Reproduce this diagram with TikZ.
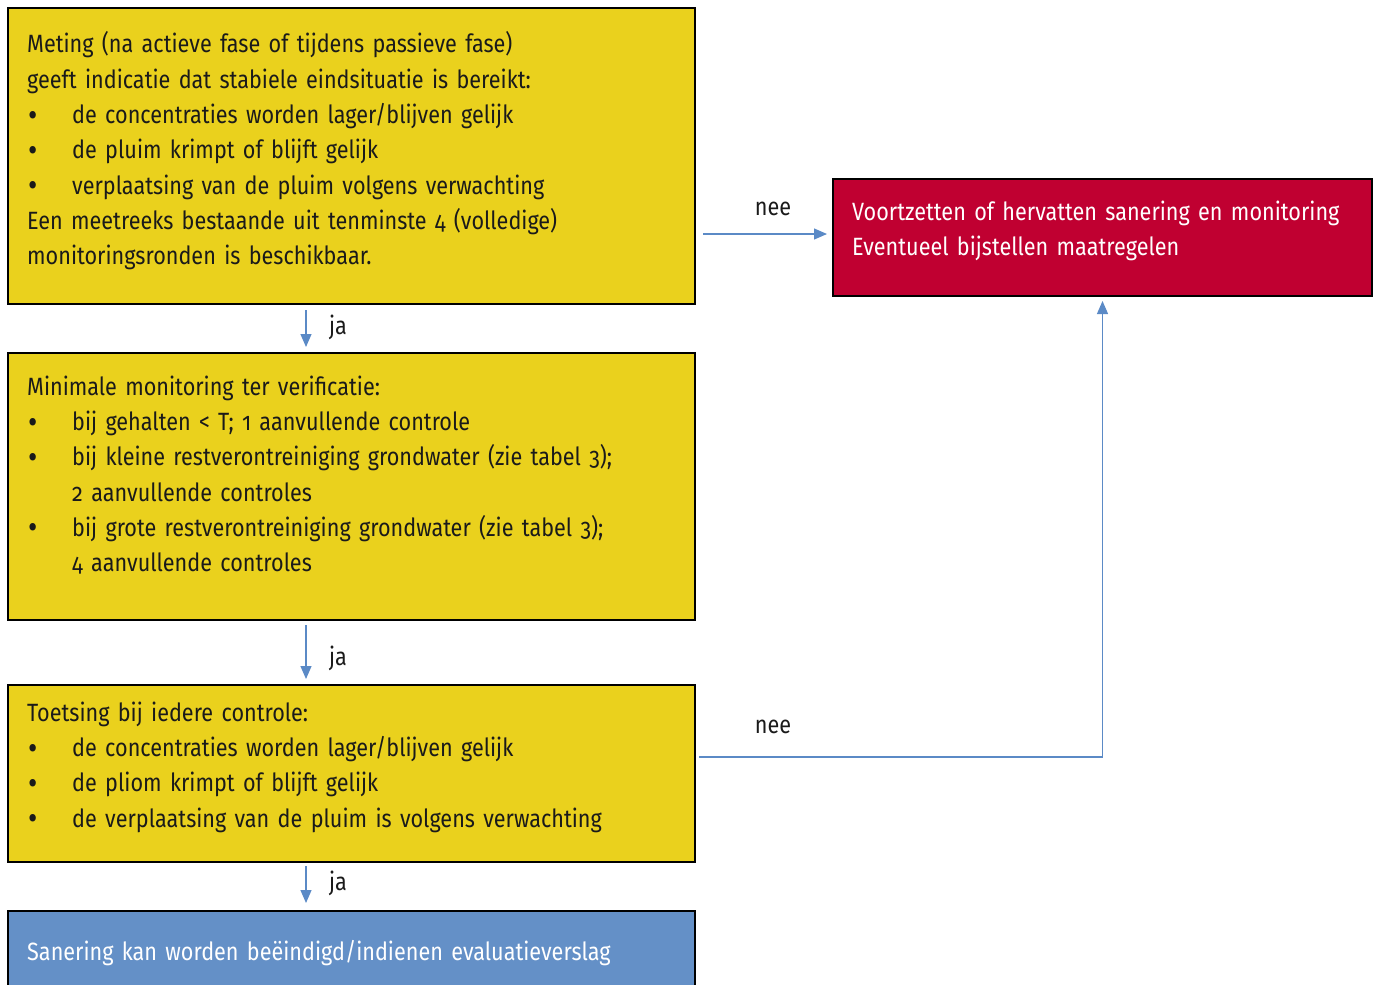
\documentclass[tikz,border=0pt]{standalone}
\usepackage{fontspec}
\setmainfont{Fira Sans}[Numbers=OldStyle, FakeStretch=0.865, WordSpace=0.7]
\usetikzlibrary{arrows.meta,calc}
\definecolor{ylw}{HTML}{EAD11D}
\definecolor{rood}{HTML}{C00031}
\definecolor{blauw}{HTML}{6490C7}
\definecolor{arrc}{HTML}{5B8AC6}
\definecolor{ink}{HTML}{1A1A1A}
\newcommand\fsz{\fontsize{25}{35.3}\selectfont}
\newcommand\bulitem{\makebox[45pt][l]{\hspace{1pt}\raisebox{-2.5pt}{\fontsize{33}{33}\selectfont•}}}
\begin{document}
\begin{tikzpicture}[x=1pt,y=-1pt,
  box/.style={draw=black, line width=1.2pt, anchor=north west, inner sep=0pt, outer sep=0pt},
  txt/.style={anchor=north west, inner sep=0pt, align=left, text width=680pt, font=\fsz, text=ink},
  wtxt/.style={txt, text=white},
  arr/.style={draw=arrc, line width=1.2pt, -{Triangle[width=11pt,length=13pt]}},
  lbl/.style={anchor=base, inner sep=0pt, font=\fsz, text=ink}]
\useasboundingbox (0,0) rectangle (1379,985);
% boxes
\node[box, fill=ylw, minimum width=687pt, minimum height=296pt] (b1) at (8,8) {};
\node[box, fill=rood, minimum width=539pt, minimum height=117pt] (r) at (833,179) {};
\node[box, fill=ylw, minimum width=687pt, minimum height=267pt] (b2) at (8,353) {};
\node[box, fill=ylw, minimum width=687pt, minimum height=177pt] (b3) at (8,685) {};
\node[box, fill=blauw, minimum width=687pt, minimum height=120pt] (b4) at (8,911) {};
% texts
\node[txt] (t1) at (27,28) {\strut Meting (na actieve fase of tijdens passieve fase)\\
\strut geeft indicatie dat stabiele eindsituatie is bereikt:\\
\strut\bulitem de concentraties worden lager/blijven gelijk\\
\strut\bulitem de pluim krimpt of blijft gelijk\\
\strut\bulitem verplaatsing van de pluim volgens verwachting\\
\strut Een meetreeks bestaande uit tenminste 4 (volledige)\\
\strut monitoringsronden is beschikbaar.};
\node[wtxt] (tr) at (852,195.3) {\strut Voortzetten of hervatten sanering en monitoring\\
\strut Eventueel bijstellen maatregelen};
\node[txt] (t2) at (27,370.3) {\strut Minimale monitoring ter verificatie:\\
\strut\bulitem bij gehalten < T; 1 aanvullende controle\\
\strut\bulitem bij kleine restverontreiniging grondwater (zie tabel 3);\\
\strut\hspace*{45pt}2 aanvullende controles\\
\strut\bulitem bij grote restverontreiniging grondwater (zie tabel 3);\\
\strut\hspace*{45pt}4 aanvullende controles};
\node[txt] (t3) at (27,696.3) {\strut Toetsing bij iedere controle:\\
\strut\bulitem de concentraties worden lager/blijven gelijk\\
\strut\bulitem de pliom krimpt of blijft gelijk\\
\strut\bulitem de verplaatsing van de pluim is volgens verwachting};
\node[wtxt] (t4) at (27,935.3) {\strut Sanering kan worden beëindigd/indienen evaluatieverslag};
% connectors
\draw[arr] ($(b1.south west)+(298,6)$) -- ($(b2.north west)+(298,-6)$);
\draw[arr] ($(b2.south west)+(298,5)$) -- ($(b3.north west)+(298,-6)$);
\draw[arr] ($(b3.south west)+(298,4)$) -- ($(b4.north west)+(298,-8)$);
\draw[arr] ($(b1.south east)+(8,-70)$) -- ($(r.west)+(-6,-3.5)$);
\draw[arr] ($(b3.east)+(4,-16.5)$) -| ($(r.south)+(0,5)$);
% labels
\node[lbl] (ja1) at (338,334) {ja};
\node[lbl] (ja2) at (338,665) {ja};
\node[lbl] (ja3) at (338,890) {ja};
\node[lbl] (nee1) at (773,215) {nee};
\node[lbl] (nee2) at (773,733) {nee};
\end{tikzpicture}
\end{document}
